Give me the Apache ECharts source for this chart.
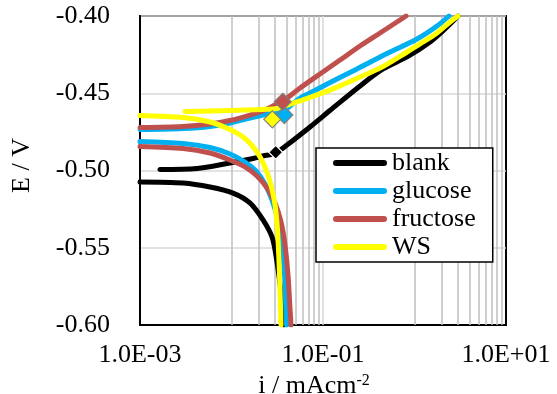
<!DOCTYPE html>
<html><head><meta charset="utf-8">
<script src="https://cdn.jsdelivr.net/npm/echarts@6/dist/echarts.min.js"></script>
<style>html,body{margin:0;padding:0;background:#fff}#c{width:557px;height:394px}</style>
</head><body><div id="c"></div>
<script>
// ---- data: [i (mA cm^-2), E (V)] ----
const seriesNames = ['blank', 'glucose', 'fructose', 'WS'];

const blankCathodic = [[0.00100,-0.5074],[0.00295,-0.5081],[0.00582,-0.5107],[0.0104,-0.5146],[0.0159,-0.5210],[0.0221,-0.5320],[0.0277,-0.5430],[0.0306,-0.5550],[0.0335,-0.5709],[0.0356,-0.5838],[0.0375,-0.6000]];
const blankAnodic = [[0.00165,-0.4994],[0.0042,-0.4987],[0.00893,-0.4955],[0.0172,-0.4922],[0.0232,-0.4903],[0.0299,-0.4890],[0.0404,-0.4835],[0.0721,-0.4718],[0.119,-0.4612],[0.254,-0.4453],[0.453,-0.4343],[0.828,-0.4265],[1.48,-0.4168],[2.15,-0.4084],[2.99,-0.4000]];

const glucoseCathodic = [[0.00100,-0.4812],[0.00295,-0.4825],[0.00582,-0.4851],[0.00963,-0.4893],[0.01405,-0.4945],[0.01853,-0.5003],[0.02323,-0.5087],[0.0277,-0.5191],[0.0322,-0.5320],[0.0356,-0.5482],[0.0380,-0.5676],[0.0389,-0.5838],[0.0399,-0.6000]];
const glucoseAnodic = [[0.00100,-0.4735],[0.00295,-0.4728],[0.00582,-0.4715],[0.00963,-0.4693],[0.01593,-0.4660],[0.02635,-0.4631],[0.0356,-0.4621],[0.0436,-0.4583],[0.0561,-0.4531],[0.0721,-0.4498],[0.1286,-0.4421],[0.2353,-0.4343],[0.5006,-0.4243],[1.065,-0.4149],[1.762,-0.4065],[2.382,-0.4000]];

const fructoseCathodic = [[0.00100,-0.4845],[0.00295,-0.4858],[0.00582,-0.4887],[0.00963,-0.4932],[0.01405,-0.4977],[0.0190,-0.5036],[0.02443,-0.5113],[0.0299,-0.5210],[0.03475,-0.5333],[0.03843,-0.5482],[0.04145,-0.5676],[0.04305,-0.5838],[0.0447,-0.6000]];
const fructoseAnodic = [[0.00100,-0.4722],[0.00295,-0.4715],[0.00582,-0.4699],[0.00963,-0.4676],[0.01593,-0.4641],[0.02323,-0.4608],[0.0299,-0.4576],[0.03655,-0.4550],[0.0561,-0.4466],[0.0927,-0.4375],[0.1534,-0.4285],[0.2538,-0.4194],[0.4198,-0.4110],[0.694,-0.4026],[0.8075,-0.4000]];

const wsCathodic = [[0.00100,-0.4644],[0.00295,-0.4657],[0.00582,-0.4686],[0.00963,-0.4735],[0.01405,-0.4793],[0.0190,-0.4880],[0.02323,-0.4977],[0.0270,-0.5094],[0.0299,-0.5223],[0.0318,-0.5385],[0.0330,-0.5579],[0.0339,-0.5773],[0.03475,-0.6000]];
const wsAnodic = [[0.0031,-0.4618],[0.00963,-0.4612],[0.0221,-0.4605],[0.0314,-0.4599],[0.0436,-0.4570],[0.0561,-0.4550],[0.1286,-0.4472],[0.3026,-0.4375],[0.4526,-0.4327],[0.828,-0.4233],[1.148,-0.4181],[1.762,-0.4110],[2.443,-0.4039],[2.99,-0.4000]];

// corrosion points (diamonds)
const blankEcorr = [[0.0304,-0.4882]];
const glucoseEcorr = [[0.0378,-0.4641]];
const fructoseEcorr = [[0.0363,-0.4555]];
const wsEcorr = [[0.0279,-0.4669]];

// axis ticks / labels / gridlines
const xLabelValues = [0.001, 0.1, 10];
const xGridLight = [0.1];
const xGridDark = [0.01,0.02,0.03,0.04,0.05,0.06,0.07,0.08,0.09,1,2,3,4,5,6,7,8,9];
const yTickValues = [-0.60,-0.55,-0.50,-0.45,-0.40];

// ---- styles ----
const FONT = 'Liberation Serif';
const colors = { blank: '#000000', glucose: '#00b0f0', fructose: '#c0504d', WS: '#ffff00' };
const diamondBorder = { blank: '#ffffff', glucose: '#7f7f7f', fructose: '#7f7f7f', WS: '#7f7f7f' };
const diamondSize = { blank: 14, glucose: 17, fructose: 17, WS: 17 };

function fmtSci(v) {
  const e = Math.round(Math.log10(v));
  const s = e < 0 ? '-' : '+';
  const a = Math.abs(e);
  return '1.0E' + s + (a < 10 ? '0' : '') + a;
}

function lineSeries(name, data) {
  return {
    name: name, type: 'line', data: data, showSymbol: false, symbol: 'none',
    smooth: 0.3, z: 3, color: colors[name],
    lineStyle: { color: colors[name], width: 5, cap: 'round', join: 'round' },
    emphasis: { disabled: true }
  };
}
function diamondSeries(name, data) {
  return {
    name: name, type: 'scatter', data: data, symbol: 'diamond', symbolSize: diamondSize[name], z: 6,
    itemStyle: { color: colors[name], borderColor: diamondBorder[name], borderWidth: 1.2, opacity: 1 },
    emphasis: { disabled: true }
  };
}

const series = [
  {
    name: '_grid', type: 'line', data: [], z: 1, silent: true,
    markLine: {
      silent: true, symbol: 'none', z: 1, animation: false,
      label: { show: false },
      data: xGridDark.map(v => ({ xAxis: v, lineStyle: { color: '#bfbfbf', width: 1.5, type: 'solid' } }))
        .concat(xGridLight.map(v => ({ xAxis: v, lineStyle: { color: '#d9d9d9', width: 1.5, type: 'solid' } })))
    }
  },
  lineSeries('blank', blankCathodic),
  lineSeries('blank', blankAnodic),
  lineSeries('glucose', glucoseCathodic),
  lineSeries('glucose', glucoseAnodic),
  lineSeries('fructose', fructoseCathodic),
  lineSeries('fructose', fructoseAnodic),
  lineSeries('WS', wsCathodic),
  lineSeries('WS', wsAnodic),
  diamondSeries('blank', blankEcorr),
  diamondSeries('glucose', glucoseEcorr),
  diamondSeries('fructose', fructoseEcorr),
  diamondSeries('WS', wsEcorr)
];

const chart = echarts.init(document.getElementById('c'), null, { renderer: 'canvas' });
chart.setOption({
  animation: false,
  backgroundColor: '#ffffff',
  grid: { left: 140, right: 51, top: 16, bottom: 69, show: true, borderColor: '#000', borderWidth: 2, backgroundColor: 'transparent', containLabel: false, outerBoundsMode: 'none' },
  legend: {
    data: seriesNames.map(n => ({ name: n })),
    orient: 'vertical', left: 316, top: 148,
    padding: [2, 17, 2, 17], itemGap: 2, itemWidth: 54, itemHeight: 6,
    icon: 'path://M3,0 H51 A3,3 0 0 1 51,6 H3 A3,3 0 0 1 3,0 Z',
    itemStyle: { borderWidth: 0 },
    backgroundColor: '#ffffff', borderColor: '#000', borderWidth: 1.5,
    selectedMode: false,
    textStyle: { fontFamily: FONT, fontSize: 26, color: '#000', lineHeight: 26 }
  },
  xAxis: {
    type: 'log', logBase: 10, min: 0.001, max: 10, splitNumber: 4,
    axisLine: { show: true, lineStyle: { color: '#000', width: 2 } },
    axisTick: { show: false },
    splitLine: { show: false },
    axisLabel: {
      margin: 17, fontFamily: FONT, fontSize: 26, color: '#000',
      showMinLabel: true, showMaxLabel: true, hideOverlap: false,
      formatter: function (v) {
        for (const t of xLabelValues) { if (Math.abs(Math.log10(v) - Math.log10(t)) < 1e-6) return fmtSci(t); }
        return '';
      }
    },
    name: 'i / mAcm{sup|-2}', nameLocation: 'middle', nameGap: 40,
    nameTextStyle: {
      fontFamily: FONT, fontSize: 26, color: '#000', lineHeight: 26, padding: [0, 18, 0, 0],
      rich: { sup: { fontFamily: FONT, fontSize: 16, color: '#000', lineHeight: 16, verticalAlign: 'top' } }
    }
  },
  yAxis: {
    type: 'value', min: -0.60, max: -0.40, interval: 0.05,
    axisLine: { show: true, lineStyle: { color: '#000', width: 2 } },
    axisTick: { show: false },
    splitLine: { show: true, lineStyle: { color: '#d9d9d9', width: 1.5 } },
    axisLabel: {
      margin: 30, fontFamily: FONT, fontSize: 26, color: '#000',
      formatter: function (v) {
        for (const t of yTickValues) { if (Math.abs(v - t) < 1e-9) return t.toFixed(2); }
        return v.toFixed(2);
      }
    },
    name: 'E / V', nameLocation: 'middle', nameGap: 105,
    nameTextStyle: { fontFamily: FONT, fontSize: 26, color: '#000', padding: [0, 0, 0, 10] }
  },
  series: series
});
</script></body></html>
